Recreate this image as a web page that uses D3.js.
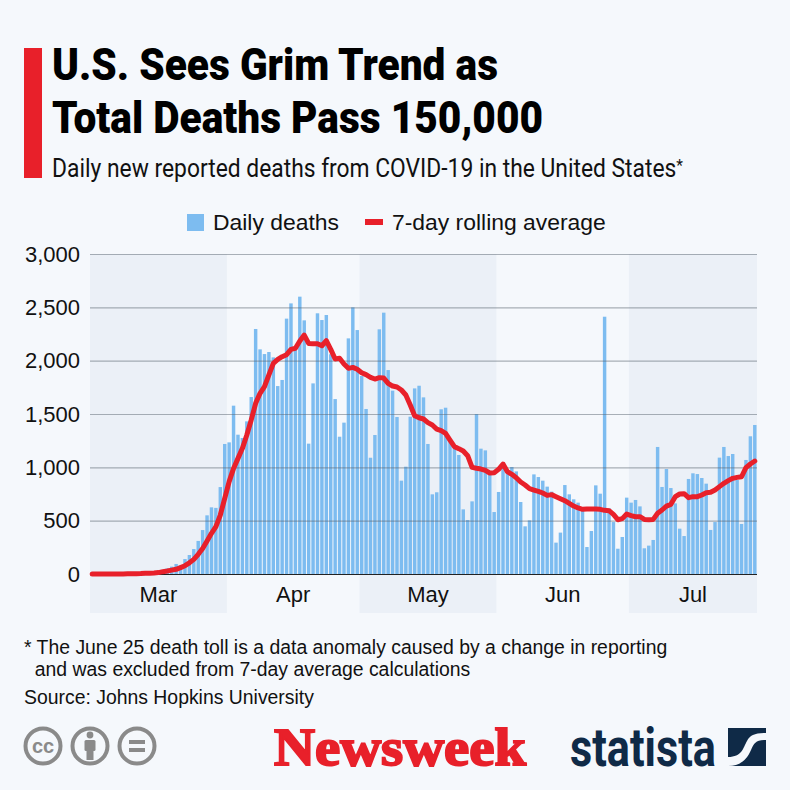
<!DOCTYPE html>
<html>
<head>
    <meta charset="utf-8">
    <title>U.S. Sees Grim Trend as Total Deaths Pass 150,000</title>
    <script src="https://cdn.jsdelivr.net/npm/d3@7"></script>
    <style>
        html, body { margin: 0; padding: 0; background: #f5f8fc; overflow: hidden; }
        svg { display: block; }
        text { font-family: "Liberation Sans", Arial, sans-serif; fill: #111; }
    </style>
</head>
<body>
<div id="graph"></div>
<script>
    // values, Mar 1 to Jul 29
    const dailyDeaths = [
        0, 1, 0, 1, 1, 2, 3, 1, 4, 3, 7, 5, 9, 10, 12, 18, 24,
        53, 69, 94, 84, 140, 178, 234, 310, 412, 550, 625, 620, 815, 1219,
        1234, 1578, 1306, 1275, 1431, 1659, 2297, 2106, 2062, 2081, 2031, 1762, 1819, 2394, 2537,
        2130, 2600, 2378, 1222, 1787, 2444, 2381, 2428, 2060, 1640, 1287, 1419, 2209, 2500, 2287,
        1856, 1547, 1090, 1303, 2294, 2450, 1912, 1719, 1472, 875, 1006, 1475, 1740, 1765, 1656,
        1219, 747, 766, 1544, 1559, 1256, 1178, 1116, 606, 506, 681, 1500, 1175, 1159, 959,
        581, 769, 1022, 944, 1003, 962, 675, 447, 503, 934, 909, 875, 819, 772, 294,
        388, 834, 747, 700, 669, 600, 253, 403, 831, 753, 2412, 616, 487, 237, 347,
        716, 669, 694, 634, 241, 266, 319, 1191, 816, 984, 806, 662, 425, 356, 891,
        944, 937, 900, 847, 413, 487, 1091, 1191, 1106, 1125, 881, 469, 1069, 1291, 1397
    ];
    const rollingAverage = [
        0, 0, 0, 0, 0, 1, 1, 1, 2, 2, 3, 4, 6, 7, 9, 13, 22,
        28, 36, 44, 60, 78, 105, 137, 185, 240, 310, 381, 444, 553, 709,
        866, 990, 1084, 1178, 1303, 1444, 1600, 1694, 1756, 1866, 1975, 2012, 2037, 2056, 2106,
        2116, 2184, 2240, 2162, 2159, 2159, 2140, 2187, 2106, 2016, 2022, 1969, 1928, 1937, 1919,
        1887, 1869, 1844, 1828, 1841, 1837, 1787, 1762, 1753, 1725, 1678, 1584, 1484, 1465, 1453,
        1419, 1397, 1359, 1344, 1319, 1256, 1194, 1175, 1153, 1109, 1000, 991, 984, 972, 947,
        950, 981, 1031, 959, 934, 903, 862, 834, 800, 787, 775, 759, 737, 744, 725,
        706, 687, 662, 637, 619, 606, 609, 609, 609, 606, 597, 594, 559, 509, 519,
        562, 547, 537, 537, 512, 509, 512, 569, 600, 637, 653, 725, 750, 753, 716,
        725, 725, 741, 762, 766, 787, 819, 850, 875, 897, 906, 912, 997, 1031, 1059
    ];
    const monthNames = ["Mar", "Apr", "May", "Jun", "Jul"];
    const monthDays = [31, 30, 31, 30, 29];
    const yTicks = [0, 500, 1000, 1500, 2000, 2500, 3000];
    const titleLines = ["U.S. Sees Grim Trend as", "Total Deaths Pass 150,000"];
    const footnotes = [
        "* The June 25 death toll is a data anomaly caused by a change in reporting",
        "  and was excluded from 7-day average calculations",
        "Source: Johns Hopkins University"
    ];

    const width = 790, height = 790;
    const plotLeft = 90, plotRight = 757, plotTop = 254, plotBottom = 574;
    const red = "#e8202a", blue = "#7dbcf0", navy = "#0f2a47";

    const svg = d3.select("#graph").append("svg")
        .attr("width", width)
        .attr("height", height);

    svg.append("rect").attr("width", width).attr("height", height).attr("fill", "#f5f8fc");

    const x = d3.scaleBand().domain(d3.range(dailyDeaths.length)).range([plotLeft, plotRight]).paddingInner(0.22).paddingOuter(0.11);
    const y = d3.scaleLinear().domain([0, 3000]).range([plotBottom, plotTop]);

    // month bands + labels
    let start = 0;
    const months = monthNames.map((name, i) => {
        const m = {name: name, i: i, x0: x(start) - x.step() * 0.11, x1: x(start) - x.step() * 0.11 + monthDays[i] * x.step()};
        start += monthDays[i];
        return m;
    });

    svg.append("g")
        .selectAll("rect")
        .data(months.filter(d => d.i % 2 == 0))
        .join("rect")
        .attr("x", d => d.x0)
        .attr("y", plotTop)
        .attr("width", d => d.x1 - d.x0)
        .attr("height", 613 - plotTop)
        .attr("fill", "#ebf0f7");

    svg.append("g")
        .selectAll("text")
        .data(months)
        .join("text")
        .attr("x", d => (d.x0 + d.x1) / 2)
        .attr("y", 602)
        .attr("text-anchor", "middle")
        .attr("font-size", 22)
        .text(d => d.name);

    // bars
    svg.append("g")
        .attr("fill", blue)
        .selectAll("rect")
        .data(dailyDeaths)
        .join("rect")
        .attr("x", (d, i) => x(i))
        .attr("y", d => y(d))
        .attr("width", x.bandwidth())
        .attr("height", d => y(0) - y(d));

    // y axis, the grid sits on top of the bars
    const yAxis = svg.append("g")
        .attr("transform", `translate(${plotLeft},0)`)
        .call(d3.axisLeft(y).tickValues(yTicks).tickFormat(d3.format(",")).tickSize(-(plotRight - plotLeft)).tickPadding(10));
    yAxis.select(".domain").remove();
    yAxis.selectAll(".tick line")
        .attr("stroke", d => d == 0 ? "#222" : "#5b6672")
        .attr("stroke-opacity", d => d == 0 ? 1 : 0.5)
        .attr("stroke-width", 1.2);
    yAxis.selectAll(".tick text")
        .attr("font-size", 22)
        .attr("font-family", "'Liberation Sans', Arial, sans-serif")
        .attr("fill", "#111");

    // rolling average
    const line = d3.line()
        .x((d, i) => x(i) + x.bandwidth() / 2)
        .y(d => y(d));
    svg.append("path")
        .datum(rollingAverage)
        .attr("d", line)
        .attr("fill", "none")
        .attr("stroke", red)
        .attr("stroke-width", 5)
        .attr("stroke-linejoin", "round")
        .attr("stroke-linecap", "round");

    // title block
    svg.append("rect").attr("x", 24).attr("y", 48).attr("width", 18).attr("height", 130).attr("fill", red);

    svg.append("g")
        .selectAll("text")
        .data(titleLines)
        .join("text")
        .attr("x", 52)
        .attr("y", (d, i) => i == 0 ? 80 : 133)
        .attr("textLength", (d, i) => i == 0 ? 446 : 491)
        .attr("lengthAdjust", "spacingAndGlyphs")
        .style("font-family", "Roboto")
        .attr("font-weight", 900)
        .attr("font-size", 45)
        .style("fill", "#000")
        .text(d => d);

    const subtitle = svg.append("text")
        .attr("x", 52)
        .attr("y", 177)
        .attr("textLength", 631)
        .attr("lengthAdjust", "spacingAndGlyphs")
        .style("font-family", "Roboto")
        .attr("font-size", 25)
        .text("Daily new reported deaths from COVID-19 in the United States");
    subtitle.append("tspan")
        .attr("font-size", 17)
        .attr("dy", -6)
        .text("*");

    // legend
    svg.append("rect").attr("x", 187).attr("y", 214).attr("width", 17).attr("height", 17).attr("fill", blue);
    svg.append("text").attr("x", 213).attr("y", 230).attr("font-size", 22.9).text("Daily deaths");
    svg.append("rect").attr("x", 365).attr("y", 219).attr("width", 18).attr("height", 6).attr("fill", red);
    svg.append("text").attr("x", 392).attr("y", 230).attr("font-size", 22.9).text("7-day rolling average");

    // notes
    svg.append("g")
        .selectAll("text")
        .data(footnotes)
        .join("text")
        .attr("x", 24)
        .attr("y", (d, i) => [654, 676, 704][i])
        .attr("font-size", 19.4)
        .style("white-space", "pre")
        .text(d => d);

    // cc icons
    const grey = "#8a8a8a";
    const cc = svg.append("g").attr("fill", "none").attr("stroke", grey).attr("stroke-width", 4);
    cc.selectAll("circle")
        .data([43, 90, 137])
        .join("circle")
        .attr("cx", d => d)
        .attr("cy", 746)
        .attr("r", 17.5);
    svg.append("text")
        .attr("x", 43).attr("y", 753)
        .attr("text-anchor", "middle")
        .attr("font-size", 20).attr("font-weight", 700)
        .style("fill", grey)
        .text("cc");
    svg.append("circle").attr("cx", 90).attr("cy", 735).attr("r", 3.4).attr("fill", grey);
    svg.append("rect").attr("x", 84.5).attr("y", 740).attr("width", 11).attr("height", 11).attr("rx", 1.5).attr("fill", grey);
    svg.append("rect").attr("x", 86.5).attr("y", 750).attr("width", 7).attr("height", 10).attr("fill", grey);
    svg.append("rect").attr("x", 129).attr("y", 740).attr("width", 16).attr("height", 4).attr("fill", grey);
    svg.append("rect").attr("x", 129).attr("y", 748).attr("width", 16).attr("height", 4).attr("fill", grey);

    // logos
    svg.append("text")
        .attr("x", 274)
        .attr("y", 765)
        .attr("textLength", 252)
        .attr("lengthAdjust", "spacingAndGlyphs")
        .style("font-family", "'Liberation Serif'")
        .attr("font-weight", 700)
        .attr("font-size", 53)
        .style("fill", red)
        .attr("stroke", red)
        .attr("stroke-width", 2)
        .text("Newsweek");

    svg.append("text")
        .attr("x", 570)
        .attr("y", 766)
        .attr("textLength", 146)
        .attr("lengthAdjust", "spacingAndGlyphs")
        .style("font-family", "Roboto")
        .attr("font-weight", 700)
        .attr("font-size", 53)
        .style("fill", navy)
        .text("statista");

    svg.append("rect").attr("x", 728).attr("y", 728).attr("width", 38).attr("height", 38).attr("fill", navy);
    svg.append("path")
        .attr("d", "M728 766 L728 757 C742 757 743 748 747 741 C750 735 755 733 766 733 L766 728 L766 740 C756 740 754 743 751 750 C747 759 741 766 728 766 Z")
        .attr("fill", "#f5f8fc");
</script>
</body>
</html>
